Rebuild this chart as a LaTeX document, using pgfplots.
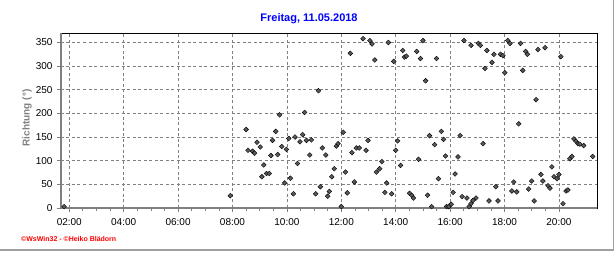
\documentclass[border=0pt]{standalone}
\usepackage{pgfplots}
\pgfplotsset{compat=1.18}
\usepackage{fontspec}
\setmainfont{Liberation Sans}
\definecolor{gridgray}{RGB}{128,128,128}
\definecolor{axgray}{RGB}{128,128,128}
\definecolor{markfill}{RGB}{90,90,90}
\definecolor{titleblue}{RGB}{0,0,255}
\definecolor{framegray}{RGB}{160,160,160}
\begin{document}
\begin{tikzpicture}[x=1pt,y=1pt]
\path[use as bounding box] (0,0) rectangle (616,253);
\draw[framegray, line width=1.5pt] (0,3) -- (613.5,3) -- (613.5,253);
\node[font=\fontsize{11}{13}\selectfont\bfseries, text=titleblue] at (309,234) {Freitag, 11.05.2018};
\node[font=\fontsize{10}{12}\selectfont\bfseries, text=axgray, rotate=90] at (27,135) {Richtung (°)};
\node[font=\fontsize{7}{8}\selectfont\bfseries, text=red, anchor=west, inner sep=0pt] at (21,14) {©WsWin32 - ©Heiko Blädorn};
\begin{axis}[
  at={(61pt,45pt)}, anchor=south west,
  scale only axis, width=536pt, height=175pt,
  xmin=1.695, xmax=21.4, ymin=0, ymax=370,
  xtick={2,4,...,20},
  xticklabels={02:00,04:00,06:00,08:00,10:00,12:00,14:00,16:00,18:00,20:00},
  minor x tick num=3,
  ytick={0,50,...,350},
  grid=major,
  major grid style={gridgray, dash pattern=on 3pt off 2.5pt, line width=0.8pt},
  tick align=outside,
  xtick pos=bottom, ytick pos=left,
  tick style={axgray, line width=0.8pt},
  major tick length=4pt, minor tick length=3pt,
  axis line style={black, line width=0.8pt},
  tick label style={font=\fontsize{10}{12}\selectfont},
  xticklabel style={yshift=-3pt},
  yticklabel style={xshift=-1pt},
  /pgf/number format/assume math mode=true,
  clip=false,
]
\draw[axgray, line width=2pt] (rel axis cs:0,1) -- (rel axis cs:0,0) -- (rel axis cs:1,0);
\addplot[only marks, mark=square*, mark size=1.7pt, mark options={rotate=45, fill=markfill, draw=black, line width=0.4pt}] table {
x y
1.81 3
7.92 26
8.50 166
8.57 122
8.74 120
8.81 116
8.90 139
9.02 129
9.08 66
9.15 91
9.25 73
9.35 73
9.41 111
9.47 143
9.59 162
9.66 113
9.73 197
9.81 130
9.92 53
9.98 124
10.07 147
10.13 63
10.24 30
10.30 150
10.39 94
10.48 140
10.58 155
10.65 202
10.72 143
10.84 112
10.90 144
11.06 30
11.16 248
11.23 45
11.30 127
11.43 112
11.50 25
11.56 35
11.65 66
11.74 83
11.82 131
11.88 136
12.00 3
12.07 160
12.15 76
12.22 32
12.33 327
12.39 117
12.48 55
12.55 127
12.66 127
12.80 358
12.91 122
12.98 143
13.05 354
13.13 347
13.23 313
13.29 76
13.41 83
13.49 98
13.60 33
13.67 53
13.73 350
13.85 30
13.93 310
14.00 122
14.07 142
14.18 90
14.26 333
14.32 319
14.39 321
14.51 31
14.59 27
14.65 21
14.77 331
14.84 103
14.91 316
15.00 354
15.10 269
15.17 27
15.24 153
15.32 3
15.43 134
15.50 316
15.57 62
15.68 162
15.76 145
15.83 110
15.87 3
15.95 3
16.04 8
16.11 33
16.18 72
16.29 108
16.37 153
16.44 24
16.51 354
16.62 21
16.70 3
16.77 344
16.77 9
16.84 16
16.95 21
17.04 348
17.11 344
17.21 136
17.28 295
17.35 333
17.43 15
17.54 308
17.61 325
17.68 45
17.76 15
17.85 325
17.94 322
18.01 286
18.12 354
18.20 348
18.27 36
18.34 55
18.45 34
18.52 178
18.59 348
18.67 291
18.78 331
18.84 325
18.89 40
19.00 57
19.09 15
19.16 229
19.23 335
19.34 71
19.41 57
19.49 339
19.60 47
19.67 42
19.74 87
19.82 66
19.93 62
20.00 71
20.07 320
20.15 9
20.26 36
20.33 38
20.40 104
20.48 109
20.55 146
20.63 141
20.70 136
20.77 135
20.91 132
21.24 109
};
\end{axis}
\end{tikzpicture}
\end{document}
